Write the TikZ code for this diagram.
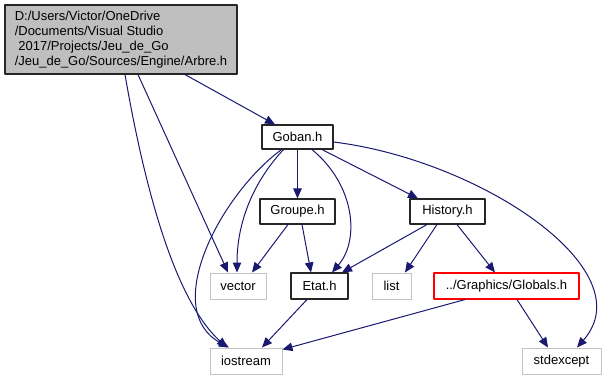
\documentclass[tikz,border=0pt]{standalone}
\usepackage{fontspec}
\setmainfont{Liberation Sans}
\usetikzlibrary{arrows.meta}
\definecolor{edgeblue}{RGB}{25,25,112}
\definecolor{rootgray}{RGB}{191,191,191}
\definecolor{sysgray}{RGB}{195,195,195}
\begin{document}
\begin{tikzpicture}[x=1pt,y=-1pt,>={Triangle[length=10pt,width=8.5pt]},line join=round,
	font=\fontsize{13}{15}\selectfont,
	hdr/.style={draw=black!85,line width=1.1pt,fill=white,inner sep=0pt,minimum height=25pt},
	sys/.style={draw=sysgray,line width=1pt,inner sep=0pt,minimum height=26pt},
	dep/.style={->,edgeblue,line width=1pt}]
	\useasboundingbox (0,0) rectangle (607,380);
	% headers of the project
	\node[hdr,fill=rootgray,minimum width=232pt,minimum height=69pt,align=left] (arbre) at (121,39.5)
		{D:/Users/Victor/OneDrive\\/Documents/Visual Studio\\\hspace*{3.6pt}2017/Projects/Jeu\_de\_Go\\/Jeu\_de\_Go/Sources/Engine/Arbre.h};
	\node[hdr,minimum width=71pt,minimum height=24pt] (goban) at (297.5,137) {Goban.h};
	\node[hdr,minimum width=75pt] (groupe) at (297.5,211.5) {Groupe.h};
	\node[hdr,minimum width=75pt] (history) at (447.5,211.5) {History.h};
	\node[hdr,minimum width=57pt,minimum height=26pt] (etat) at (319.5,286) {Etat.h};
	\node[hdr,draw=red,minimum width=145pt,minimum height=26pt] (globals) at (506.5,286) {../Graphics/Globals.h};
	% standard library
	\node[sys,minimum width=56pt] (vector) at (238,286) {vector};
	\node[sys,minimum width=39pt] (list) at (391.5,286) {list};
	\node[sys,minimum width=72pt] (iostream) at (246,361) {iostream};
	\node[sys,minimum width=79pt] (stdexcept) at (561.5,361) {stdexcept};
	% includes
	\draw[dep] ([xshift=64pt]arbre.south) -- ([xshift=-22.5pt]goban.north);
	\draw[dep] ([xshift=17pt]arbre.south) -- ([xshift=-10pt]vector.north);
	\draw[dep] ([xshift=4pt]arbre.south) .. controls (145,190) and (175,300) .. ([xshift=-19pt]iostream.north);
	\draw[dep] (goban.south) -- (groupe.north);
	\draw[dep] ([xshift=-14pt]goban.south) .. controls (255,180) and (237,220) .. ([xshift=-1pt]vector.north);
	\draw[dep] ([xshift=-16pt]goban.south) .. controls (220,195) and (160,310) .. ([xshift=-17pt]iostream.north);
	\draw[dep] ([xshift=14.5pt]goban.south) .. controls (355,185) and (360,240) .. ([xshift=12.5pt]etat.north);
	\draw[dep] ([xshift=24.5pt]goban.south) -- ([xshift=-29.5pt]history.north);
	\draw[dep] ([yshift=-5pt]goban.east) .. controls (480,160) and (645,270) .. ([xshift=15.5pt]stdexcept.north);
	\draw[dep] ([xshift=-9.5pt]groupe.south) -- ([xshift=14pt]vector.north);
	\draw[dep] ([xshift=4.5pt]groupe.south) -- ([xshift=-8.5pt]etat.north);
	\draw[dep] ([xshift=-20.5pt]history.south) -- ([xshift=22.5pt]etat.north);
	\draw[dep] ([xshift=-10.5pt]history.south) -- ([xshift=13.5pt]list.north);
	\draw[dep] ([xshift=9.5pt]history.south) -- ([xshift=-11.5pt]globals.north);
	\draw[dep] ([xshift=-12.5pt]etat.south) -- ([xshift=16pt]iostream.north);
	\draw[dep] ([xshift=-41.5pt]globals.south) -- ([yshift=-2pt]iostream.north east);
	\draw[dep] ([xshift=10.5pt]globals.south) -- ([xshift=-13.5pt]stdexcept.north);
\end{tikzpicture}
\end{document}
